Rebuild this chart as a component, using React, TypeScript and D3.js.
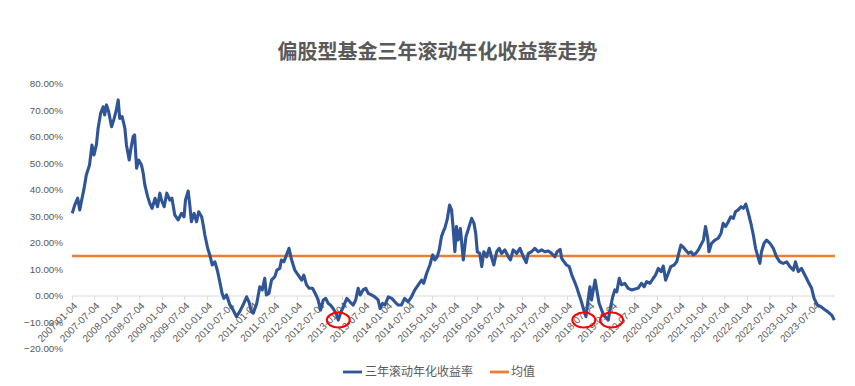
import * as React from 'react';
import * as d3 from 'd3';

const WIDTH = 855;
const HEIGHT = 386;

const TITLE = '偏股型基金三年滚动年化收益率走势';
const SERIES_NAME = '三年滚动年化收益率';
const MEAN_NAME = '均值';

const DATES: string[] = [
    '2007-01-03', '2007-01-23', '2007-02-16', '2007-03-05', '2007-03-18', '2007-04-09', '2007-04-27', '2007-05-23',
    '2007-06-12', '2007-06-28', '2007-07-18', '2007-08-01', '2007-08-21', '2007-09-11', '2007-09-23', '2007-10-08',
    '2007-10-25', '2007-11-18', '2007-12-09', '2007-12-27', '2008-01-11', '2008-01-23', '2008-02-12', '2008-03-05',
    '2008-03-18', '2008-04-09', '2008-04-21', '2008-05-11', '2008-05-23', '2008-06-08', '2008-06-25', '2008-07-18',
    '2008-08-01', '2008-08-14', '2008-09-06', '2008-09-23', '2008-10-12', '2008-11-05', '2008-11-25', '2008-12-14',
    '2008-12-27', '2009-01-18', '2009-02-08', '2009-03-05', '2009-03-22', '2009-04-14', '2009-05-11', '2009-06-08',
    '2009-06-28', '2009-07-10', '2009-08-01', '2009-08-14', '2009-08-27', '2009-09-18', '2009-10-08', '2009-10-25',
    '2009-11-18', '2009-12-01', '2009-12-14', '2010-01-06', '2010-01-23', '2010-02-12', '2010-03-05', '2010-03-25',
    '2010-04-14', '2010-05-03', '2010-05-18', '2010-06-08', '2010-07-05', '2010-08-01', '2010-08-27', '2010-09-23',
    '2010-10-20', '2010-11-18', '2010-12-07', '2010-12-27', '2011-01-11', '2011-02-08', '2011-03-05', '2011-03-25',
    '2011-04-14', '2011-04-27', '2011-05-18', '2011-06-08', '2011-07-05', '2011-07-22', '2011-08-14', '2011-08-27',
    '2011-09-16', '2011-10-08', '2011-10-28', '2011-11-18', '2011-12-14', '2012-01-11', '2012-02-08', '2012-02-25',
    '2012-03-18', '2012-04-09', '2012-05-06', '2012-06-03', '2012-06-20', '2012-07-10', '2012-08-01', '2012-08-21',
    '2012-09-11', '2012-09-28', '2012-10-20', '2012-11-12', '2012-12-01', '2012-12-19', '2013-01-11', '2013-02-08',
    '2013-03-05', '2013-04-01', '2013-04-21', '2013-05-11', '2013-05-28', '2013-06-20', '2013-07-12', '2013-08-01',
    '2013-08-27', '2013-09-23', '2013-10-20', '2013-11-05', '2013-11-25', '2013-12-14', '2014-01-11', '2014-02-08',
    '2014-03-05', '2014-04-01', '2014-04-27', '2014-05-23', '2014-06-20', '2014-07-18', '2014-08-14', '2014-09-11',
    '2014-10-08', '2014-10-25', '2014-11-18', '2014-12-14', '2015-01-06', '2015-01-23', '2015-02-12', '2015-02-28',
    '2015-03-18', '2015-04-07', '2015-04-14', '2015-05-03', '2015-05-23', '2015-06-08', '2015-06-20', '2015-07-05',
    '2015-07-18', '2015-08-01', '2015-08-19', '2015-09-11', '2015-10-03', '2015-10-20', '2015-11-18', '2015-12-07',
    '2015-12-21', '2016-01-03', '2016-01-23', '2016-02-08', '2016-02-25', '2016-03-18', '2016-04-09', '2016-04-27',
    '2016-05-16', '2016-06-08', '2016-06-28', '2016-07-18', '2016-08-14', '2016-09-11', '2016-09-28', '2016-10-20',
    '2016-11-18', '2016-12-14', '2017-01-11', '2017-02-03', '2017-02-20', '2017-03-18', '2017-04-14', '2017-05-11',
    '2017-06-08', '2017-07-05', '2017-08-01', '2017-08-27', '2017-09-23', '2017-10-12', '2017-11-05', '2017-11-18',
    '2017-12-07', '2017-12-27', '2018-01-18', '2018-02-08', '2018-02-25', '2018-03-18', '2018-04-09', '2018-04-27',
    '2018-05-16', '2018-06-03', '2018-06-20', '2018-07-05', '2018-07-18', '2018-08-01', '2018-08-16', '2018-09-03',
    '2018-09-18', '2018-10-08', '2018-10-25', '2018-11-18', '2018-12-01', '2018-12-14', '2019-01-06', '2019-01-23',
    '2019-02-08', '2019-02-28', '2019-03-18', '2019-04-14', '2019-05-11', '2019-06-08', '2019-07-05', '2019-08-01',
    '2019-08-27', '2019-09-18', '2019-10-08', '2019-11-05', '2019-12-01', '2019-12-19', '2020-01-11', '2020-02-03',
    '2020-02-20', '2020-03-10', '2020-04-01', '2020-04-21', '2020-05-18', '2020-06-08', '2020-06-25', '2020-07-12',
    '2020-08-01', '2020-08-19', '2020-09-11', '2020-10-03', '2020-10-20', '2020-11-10', '2020-12-01', '2020-12-21',
    '2021-01-11', '2021-01-28', '2021-02-15', '2021-02-25', '2021-03-18', '2021-04-14', '2021-05-11', '2021-06-03',
    '2021-06-20', '2021-07-10', '2021-08-01', '2021-08-21', '2021-09-11', '2021-09-28', '2021-10-20', '2021-11-12',
    '2021-12-01', '2021-12-21', '2022-01-11', '2022-02-03', '2022-02-20', '2022-03-10', '2022-03-25', '2022-04-14',
    '2022-04-27', '2022-05-18', '2022-06-08', '2022-07-05', '2022-08-01', '2022-08-27', '2022-09-23', '2022-10-20',
    '2022-11-18', '2022-12-14', '2023-01-11', '2023-01-28', '2023-02-20', '2023-03-18', '2023-04-14', '2023-05-11',
    '2023-06-08', '2023-06-28', '2023-07-25', '2023-08-21', '2023-09-18', '2023-10-16', '2023-11-18', '2023-12-09'
];

// values in percent
const RETURNS: number[] = [
    31.2, 34.3, 36.9, 32.5, 35.6, 40.6, 45.7, 49.4,
    57.0, 53.2, 57.0, 63.3, 68.9, 71.4, 68.3, 72.1,
    69.6, 63.9, 67.0, 70.2, 74.0, 67.0, 67.7, 63.3,
    57.0, 51.3, 55.1, 60.1, 60.8, 48.2, 51.3, 49.4,
    46.3, 41.9, 37.5, 35.0, 33.1, 36.9, 33.7, 38.8,
    36.2, 33.7, 38.8, 36.2, 36.9, 30.6, 28.7, 31.2,
    29.9, 36.2, 39.6, 34.3, 28.0, 31.2, 28.0, 31.8,
    29.9, 26.8, 23.0, 18.0, 15.5, 11.7, 12.9, 9.8,
    5.4, 1.0, -0.9, 0.4, -3.4, -5.3, -7.8, -5.9,
    -3.4, -0.3, -2.2, -5.9, -6.5, -2.8, 3.5, 2.3,
    6.7, 0.4, 1.0, 6.0, 7.3, 9.8, 10.4, 13.6,
    12.9, 15.5, 18.0, 13.6, 9.8, 7.9, 6.0, 7.9,
    4.2, 2.9, 2.9, 0.4, -1.5, -5.3, -1.5, -0.9,
    -2.8, -3.4, -4.7, -6.5, -9.1, -6.5, -4.0, -0.9,
    -2.2, -3.4, -1.5, 2.9, 0.4, 2.3, 2.9, 1.0,
    0.4, -0.3, -1.5, -4.7, -2.8, -3.4, -0.3, -0.9,
    -2.2, -3.4, -3.4, -0.9, -2.2, -0.3, 2.3, 4.2,
    6.0, 4.8, 8.6, 11.7, 15.5, 13.6, 14.8, 17.4,
    22.4, 24.9, 25.5, 28.7, 34.3, 32.5, 26.2, 16.7,
    26.2, 21.1, 25.5, 13.6, 22.4, 24.9, 29.3, 27.4,
    23.7, 16.7, 16.1, 11.1, 16.7, 14.8, 18.0, 14.8,
    11.7, 16.7, 18.0, 16.1, 17.4, 14.8, 13.6, 17.4,
    16.1, 18.0, 14.8, 12.6, 16.1, 16.7, 18.0, 16.7,
    17.4, 16.7, 17.0, 16.1, 14.8, 16.7, 17.6, 14.2,
    12.9, 11.7, 11.1, 7.9, 6.0, 3.5, 0.4, -2.2,
    -5.3, -7.8, -1.5, 3.5, -1.5, 2.3, 6.0, 1.0,
    -2.8, -5.3, -7.2, -8.4, -9.1, -5.3, -0.3, 2.3,
    1.6, 6.7, 4.2, 4.8, 2.9, 2.3, 2.6, 3.0,
    4.8, 3.5, 5.4, 4.8, 6.7, 7.9, 10.4, 9.2,
    11.3, 6.0, 8.6, 11.1, 11.7, 12.9, 16.1, 19.2,
    18.4, 17.4, 16.1, 16.7, 15.5, 16.1, 17.4, 19.2,
    21.1, 26.2, 21.8, 16.7, 19.9, 21.1, 21.8, 23.7,
    27.4, 26.2, 28.0, 29.9, 29.3, 31.8, 32.5, 33.7,
    33.1, 34.7, 31.2, 26.8, 23.0, 18.0, 15.5, 12.3,
    16.7, 19.9, 21.1, 19.9, 18.0, 14.8, 12.9, 12.3,
    12.9, 11.1, 9.8, 12.9, 9.2, 10.4, 7.9, 5.4,
    2.9, -0.9, -3.4, -4.0, -5.0, -5.9, -7.2, -9.1
];

const MEAN_VALUE = 15.1;

const Y_TICKS = [80, 70, 60, 50, 40, 30, 20, 10, 0, -10, -20];

const X_TICK_LABELS = [
    '2007-01-04', '2007-07-04', '2008-01-04', '2008-07-04', '2009-01-04', '2009-07-04',
    '2010-01-04', '2010-07-04', '2011-01-04', '2011-07-04', '2012-01-04', '2012-07-04',
    '2013-01-04', '2013-07-04', '2014-01-04', '2014-07-04', '2015-01-04', '2015-07-04',
    '2016-01-04', '2016-07-04', '2017-01-04', '2017-07-04', '2018-01-04', '2018-07-04',
    '2019-01-04', '2019-07-04', '2020-01-04', '2020-07-04', '2021-01-04', '2021-07-04',
    '2022-01-04', '2022-07-04', '2023-01-04', '2023-07-04'
];

// troughs circled in red on the original
const HIGHLIGHT_DATES = ['2012-12-01', '2018-05-16', '2018-12-27'];
const HIGHLIGHT_VALUE = -9.1;

const BLUE = '#2F5597';
const ORANGE = '#ED7D31';
const TEXT = '#595959';
const LABEL_FONT = '"Liberation Sans", Arial, sans-serif';
const CJK_FONT = '"Noto Sans CJK SC", "Noto Sans", sans-serif';

export default function App() {
    const ref = React.useRef<SVGSVGElement>(null);

    React.useEffect(() => {
        const svg = d3.select(ref.current);
        svg.selectAll('*').remove();

        const parse = d3.timeParse('%Y-%m-%d');
        const data = DATES.map((d, i) => ({ date: parse(d) as Date, value: RETURNS[i] }));

        // plot area
        const x = d3.scaleTime()
            .domain([parse('2007-01-01') as Date, parse(DATES[DATES.length - 1]) as Date])
            .range([72, 834.3]);
        const y = d3.scaleLinear().domain([-20, 80]).range([349, 84]);
        const x0 = x.range()[0];
        const x1 = 835;

        svg.append('rect').attr('width', WIDTH).attr('height', HEIGHT).attr('fill', '#fff');

        // TITLE
        svg.append('text')
            .attr('x', 437.5).attr('y', 52)
            .attr('text-anchor', 'middle').attr('dy', '0.35em')
            .style('font-family', CJK_FONT).style('font-size', '20px').style('font-weight', 700)
            .attr('fill', TEXT)
            .text(TITLE);

        // Y LABELS
        svg.append('g').selectAll('text').data(Y_TICKS).join('text')
            .attr('x', 63).attr('y', d => y(d))
            .attr('text-anchor', 'end').attr('dy', '0.35em')
            .style('font-family', LABEL_FONT).style('font-size', '9.8px')
            .attr('fill', TEXT)
            .text(d => d3.format('.2f')(d) + '%');

        // X AXIS AT ZERO
        const axisY = y(0);
        const xg = svg.append('g');
        xg.append('line')
            .attr('x1', x0).attr('x2', x1).attr('y1', axisY).attr('y2', axisY)
            .attr('stroke', '#D9D9D9').attr('stroke-width', 1);
        xg.selectAll('line.tick').data(X_TICK_LABELS).join('line')
            .attr('class', 'tick')
            .attr('x1', d => x(parse(d) as Date)).attr('x2', d => x(parse(d) as Date))
            .attr('y1', axisY).attr('y2', axisY + 4)
            .attr('stroke', '#D9D9D9');
        xg.selectAll('text').data(X_TICK_LABELS).join('text')
            .attr('transform', d => 'translate(' + [x(parse(d) as Date) + 3, axisY + 8] + ') rotate(-45)')
            .attr('text-anchor', 'end').attr('dy', '0.35em')
            .style('font-family', LABEL_FONT).style('font-size', '10px')
            .attr('fill', TEXT)
            .text(d => d);

        // MEAN LINE
        svg.append('line')
            .attr('x1', x0).attr('x2', x1)
            .attr('y1', y(MEAN_VALUE)).attr('y2', y(MEAN_VALUE))
            .attr('stroke', ORANGE).attr('stroke-width', 2.5);

        // SERIES
        const line = d3.line<{ date: Date; value: number }>()
            .x(d => x(d.date))
            .y(d => y(d.value));
        svg.append('path')
            .datum(data)
            .attr('d', line)
            .attr('fill', 'none')
            .attr('stroke', BLUE)
            .attr('stroke-width', 3.1)
            .attr('stroke-linejoin', 'round');

        // RED CIRCLES
        svg.append('g').selectAll('ellipse').data(HIGHLIGHT_DATES).join('ellipse')
            .attr('cx', d => x(parse(d) as Date))
            .attr('cy', y(HIGHLIGHT_VALUE))
            .attr('rx', 11.5).attr('ry', 7.5)
            .attr('fill', 'none').attr('stroke', '#FF0000').attr('stroke-width', 2);

        // LEGEND
        const lg = svg.append('g').attr('transform', 'translate(0,372)');
        lg.append('line').attr('x1', 343).attr('x2', 362).attr('stroke', BLUE).attr('stroke-width', 2.8);
        lg.append('text').attr('x', 365).attr('dy', '0.35em')
            .style('font-family', CJK_FONT).style('font-size', '12px')
            .attr('fill', TEXT).text(SERIES_NAME);
        lg.append('line').attr('x1', 490).attr('x2', 509).attr('stroke', ORANGE).attr('stroke-width', 2.8);
        lg.append('text').attr('x', 511).attr('dy', '0.35em')
            .style('font-family', CJK_FONT).style('font-size', '12px')
            .attr('fill', TEXT).text(MEAN_NAME);
    }, []);

    return (
        <svg
            ref={ref}
            width={WIDTH}
            height={HEIGHT}
            style={{ position: 'absolute', left: 0, top: 0, display: 'block' }}
        />
    );
}
